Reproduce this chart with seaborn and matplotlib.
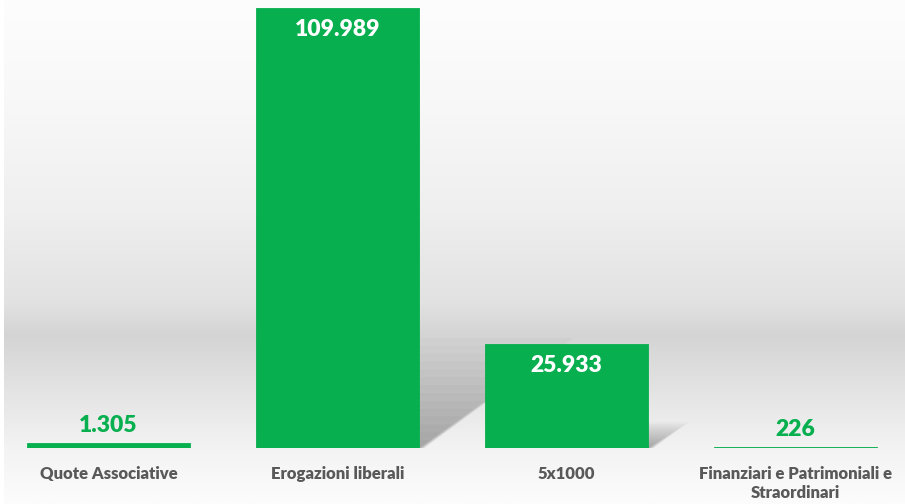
import numpy as np
import pandas as pd
import matplotlib
matplotlib.use("Agg")
import matplotlib.pyplot as plt
import seaborn as sns
from matplotlib.colors import LinearSegmentedColormap
from matplotlib.patches import Polygon

# ==========================================
# DATA
# ==========================================
categories = ["Quote Associative", "Erogazioni liberali", "5x1000",
              "Finanziari e Patrimoniali e\nStraordinari"]
values = [1305, 109989, 25933, 226]
value_labels = ["1.305", "109.989", "25.933", "226"]

df = pd.DataFrame({"categoria": categories, "valore": values})

GREEN = "#07AF4F"
LABEL_GREY = "#595959"

sns.set_theme(style="white")
plt.rcParams['font.family'] = ['Lato', 'DejaVu Sans']

fig = plt.figure(figsize=(9.05, 5.04), dpi=100)
fig.patch.set_facecolor("white")

# background gradient (light top, grey band, white bottom)
bg = fig.add_axes([4 / 905, 0, 1 - 4 / 905, 1], zorder=0)
grad = LinearSegmentedColormap.from_list(
    "bggrad",
    [(0.0, "#fdfdfd"), (0.2, "#f8f8f8"), (0.42, "#efefef"),
     (0.6, "#e2e2e2"), (0.665, "#d4d4d4"), (0.78, "#e4e4e4"),
     (0.89, "#f3f3f3"), (1.0, "#fcfcfc")])
bg.imshow(np.linspace(0, 1, 256).reshape(-1, 1), aspect="auto", cmap=grad,
          extent=[0, 1, 1, 0])
bg.set_axis_off()

# main axes
ax = fig.add_axes([0, 56 / 504, 1, 448 / 504], zorder=1)
ax.patch.set_alpha(0)
ymax = max(values) * 448 / 440
sns.barplot(data=df, x="categoria", y="valore", color=GREEN, saturation=1,
            width=0.71, ax=ax, zorder=3, edgecolor=GREEN, linewidth=0.6)
ax.set_xlim(-0.474, 3.478)
ax.set_ylim(0, ymax)

bars = list(ax.patches)

# soft slanted shadows behind the taller bars
px_x = 229.0
px_y = 448.0 / ymax
for p in bars:
    x0, w, h = p.get_x(), p.get_width(), p.get_height()
    if h * px_y < 10:
        continue
    sh_px = h * px_y * 0.25
    for i in range(14):
        s = (i + 1) / 14
        dx = 1.35 * sh_px * s / px_x
        top = h * 0.25 * s
        spread = 6 * s / px_x
        poly = Polygon([(x0, 0), (x0 + w + spread, 0),
                        (x0 + w + dx + spread, top), (x0 + dx, top)],
                       closed=True, facecolor="#000000", alpha=0.025,
                       edgecolor="none", zorder=1)
        ax.add_patch(poly)

# value labels
for p, lab in zip(bars, value_labels):
    xc = p.get_x() + p.get_width() / 2
    h = p.get_height()
    if h * px_y > 60:
        ax.text(xc, h - 11 / px_y, lab, ha="center", va="top", color="white",
                fontsize=16.5, fontweight="heavy", zorder=5)
    else:
        ax.text(xc, h + 7 / px_y, lab, ha="center", va="bottom", color=GREEN,
                fontsize=16.5, fontweight="heavy", zorder=5)

ax.set_xlabel("")
ax.set_ylabel("")
ax.set_yticks([])
ax.tick_params(axis="x", length=0, pad=13, labelsize=12, labelcolor=LABEL_GREY)
for t in ax.get_xticklabels():
    t.set_fontweight("heavy")
    t.set_va("top")
    t.set_linespacing(1.25)
sns.despine(ax=ax, left=True, bottom=True)

plt.savefig("out.png", dpi=100, facecolor="white")
plt.close()
